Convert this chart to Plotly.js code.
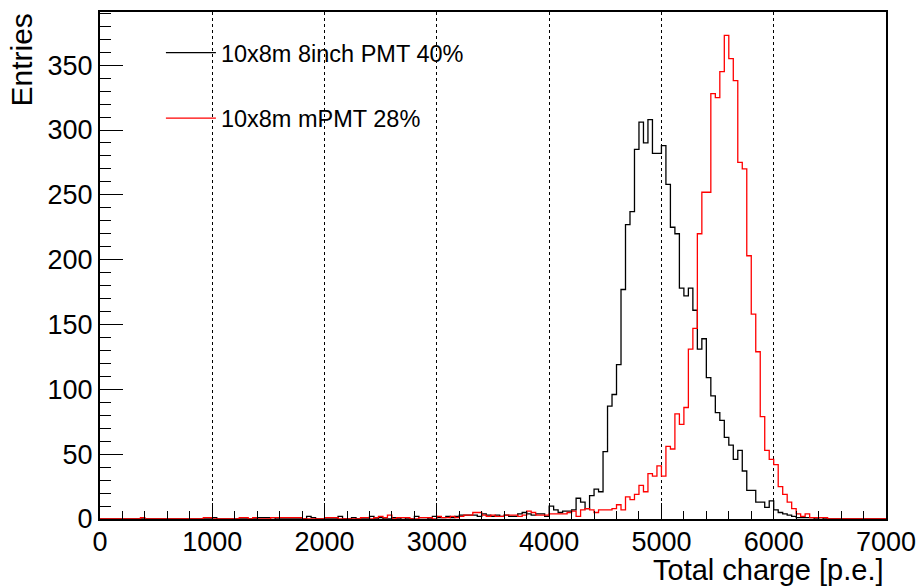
<!DOCTYPE html>
<html><head><meta charset="utf-8">
<script src="https://cdn.plot.ly/plotly-3.0.1.min.js"></script>
<style>html,body{margin:0;padding:0;background:#fff}#chart{width:922px;height:588px}</style>
</head><body><div id="chart"></div>
<script>
// Histogram binning (p.e.)
const binWidth = 40;
const xLow = 0;
const xHigh = 7000;
const seriesNames = ["10x8m 8inch PMT 40%", "10x8m mPMT 28%"];
const seriesColors = ["#000000", "#ff0000"];
const xTickLabels = ["0","1000","2000","3000","4000","5000","6000","7000"];
const yTickLabels = ["0","50","100","150","200","250","300","350"];

// Entries per 40 p.e. bin, bins 0..174
const pmt8inch40 = [
  0,0,0,0,0,0,0,0,0,0,0,0,0,0,0,0,0,0,0,0,0,0,0,0,0,
  1,0,0,0,0,0,0,0,0,0,1,1,1,1,0,0,0,0,0,0,0,2,1,0,0,
  0,0,0,2,0,0,1,0,0,0,2,0,1,0,0,1,0,1,0,0,2,1,1,0,2,
  1,1,2,1,2,3,3,3,3,2,4,3,2,3,2,3,2,2,4,5,4,3,4,4,2,
  10,7,5,6,6,7,16,13,8,18,23,21,52,87,96,119,177,227,237,285,306,290,308,282,282,
  288,258,225,220,178,172,178,161,131,139,109,95,82,76,63,57,46,53,37,22,22,13,13,9,14,
  7,5,4,3,2,1,1,1,1,0,1,0,0,0,0,0,0,0,0,0,0,0,0,0,0
];
const mpmt28 = [
  0,0,0,0,0,0,0,0,0,1,0,0,0,0,0,0,0,0,0,0,0,0,0,1,1,
  0,0,0,0,0,0,1,1,0,1,0,0,0,1,1,1,1,1,1,1,0,0,0,0,0,
  1,1,1,0,0,0,0,0,1,1,0,1,2,1,3,0,1,1,1,0,0,1,1,1,0,
  2,1,1,2,1,2,3,3,5,5,3,2,3,2,2,3,3,3,2,3,6,5,3,3,3,
  4,4,4,4,5,6,2,7,8,7,5,7,7,7,8,11,7,17,15,19,26,21,35,33,41,
  33,56,54,81,73,86,131,147,220,252,252,328,325,345,373,355,338,275,270,203,158,129,79,53,46,
  42,25,19,13,8,4,2,4,1,1,1,1,0,0,0,0,0,0,0,0,0,0,0,0,0
];

function stepTrace(counts, name, color) {
  const xs = [], ys = [];
  for (let i = 0; i < counts.length; i++) { xs.push(xLow + i * binWidth); ys.push(counts[i]); }
  xs.push(xLow + counts.length * binWidth); ys.push(counts[counts.length - 1]);
  return {
    type: 'scatter', mode: 'lines', x: xs, y: ys, name: name,
    line: {shape: 'hv', color: color, width: 1.3},
    legendgroup: name, hoverinfo: 'skip'
  };
}

const data = [
  stepTrace(pmt8inch40, seriesNames[0], seriesColors[0]),
  stepTrace(mpmt28, seriesNames[1], seriesColors[1])
];

const FONT = 'Liberation Sans, Arial, Helvetica, sans-serif';
const plotTopPx = 12, plotBottomPx = 519;

const layout = {
  width: 922, height: 588,
  margin: {l: 100, r: 36, t: plotTopPx, b: 588 - plotBottomPx, pad: 0},
  paper_bgcolor: '#ffffff', plot_bgcolor: '#ffffff',
  font: {family: FONT, color: '#000000'},
  showlegend: true,
  legend: {
    x: 0.0775, y: 0.963, xanchor: 'left', yanchor: 'top',
    bgcolor: 'rgba(255,255,255,0)', borderwidth: 0,
    font: {family: FONT, size: 23.5, color: '#000'},
    tracegroupgap: 32, itemwidth: 50, traceorder: 'grouped'
  },
  xaxis: {
    range: [xLow, xHigh], tickmode: 'array',
    tickvals: xTickLabels.map(Number), ticktext: xTickLabels,
    ticks: 'inside', ticklen: 16, tickwidth: 1, tickcolor: '#000',
    minor: {dtick: 200, tick0: 0, ticks: 'inside', ticklen: 8, tickwidth: 1, tickcolor: '#000', showgrid: false},
    showgrid: true, gridcolor: '#000', griddash: 'dot', gridwidth: 1,
    showline: true, linecolor: '#000', linewidth: 2, mirror: true,
    zeroline: false, ticklabelstandoff: -2,
    tickfont: {family: FONT, size: 27, color: '#000'}
  },
  yaxis: {
    range: [0, 391], tickmode: 'array',
    tickvals: yTickLabels.map(Number), ticktext: yTickLabels,
    ticks: 'inside', ticklen: 23, tickwidth: 1, tickcolor: '#000',
    minor: {dtick: 10, tick0: 0, ticks: 'inside', ticklen: 11, tickwidth: 1, tickcolor: '#000', showgrid: false},
    showgrid: false, showline: true, linecolor: '#000', linewidth: 2, mirror: true,
    zeroline: false, tickfont: {family: FONT, size: 27, color: '#000'}
  },
  shapes: [{
    type: 'rect', layer: 'between', xref: 'paper', yref: 'paper',
    x0: 0.06, x1: 0.49, y0: (plotBottomPx - 146) / (plotBottomPx - plotTopPx), y1: 1,
    fillcolor: '#ffffff', line: {width: 0}
  }],
  annotations: [
    {text: 'Total charge [p.e.]', xref: 'paper', yref: 'paper', x: 1, y: -0.1,
     xanchor: 'right', yanchor: 'middle', showarrow: false,
     font: {family: FONT, size: 29, color: '#000'}},
    {text: 'Entries', xref: 'paper', yref: 'paper', x: -0.1005, y: 1,
     xanchor: 'center', yanchor: 'top', textangle: -90, showarrow: false,
     font: {family: FONT, size: 30, color: '#000'}}
  ]
};

Plotly.newPlot('chart', data, layout, {staticPlot: true, displayModeBar: false});
</script>
</body></html>
